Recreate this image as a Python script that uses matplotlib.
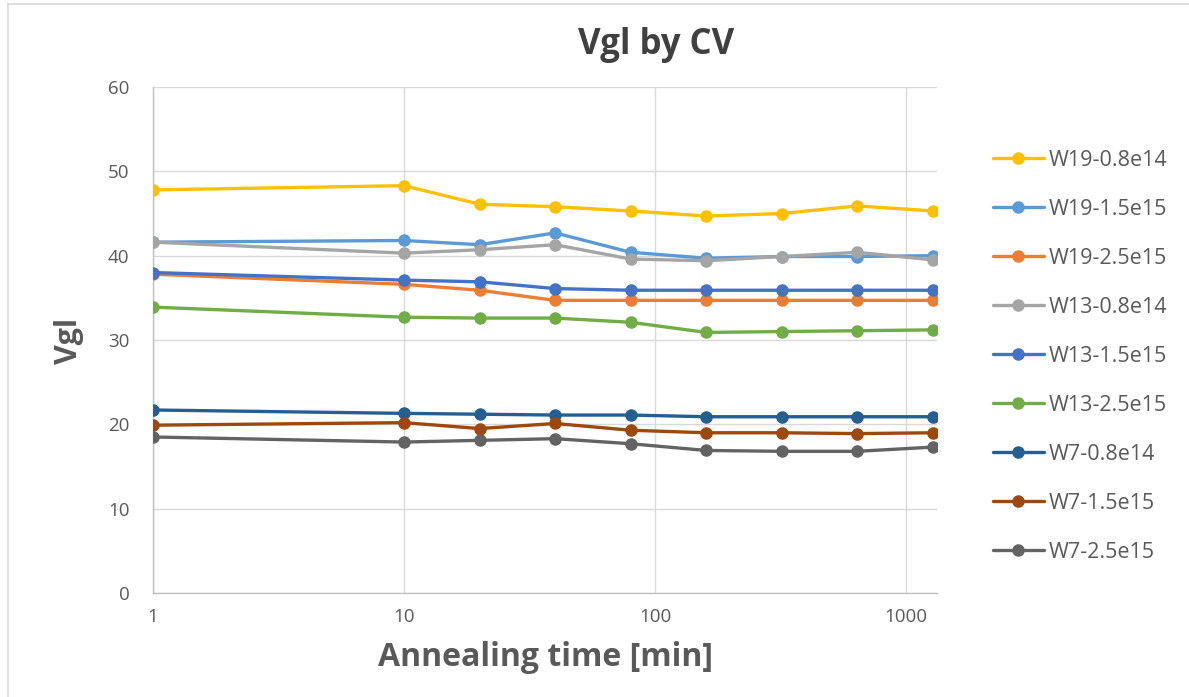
import matplotlib
matplotlib.use("Agg")
import matplotlib.pyplot as plt
from matplotlib.lines import Line2D

plt.rcParams['font.family'] = ['Open Sans', 'DejaVu Sans']

time_min = [1, 10, 20, 40, 80, 160, 320, 640, 1280]

series_names = ["W19-0.8e14", "W19-1.5e15", "W19-2.5e15", "W13-0.8e14", "W13-1.5e15",
                "W13-2.5e15", "W7-0.8e14", "W7-1.5e15", "W7-2.5e15"]
w19_08e14 = [47.8, 48.3, 46.1, 45.8, 45.3, 44.7, 45.0, 45.9, 45.3]
w19_15e15 = [41.6, 41.8, 41.3, 42.7, 40.4, 39.7, 39.9, 39.9, 40.0]
w19_25e15 = [37.8, 36.6, 35.9, 34.7, 34.7, 34.7, 34.7, 34.7, 34.7]
w13_08e14 = [41.6, 40.3, 40.7, 41.3, 39.6, 39.4, 39.9, 40.4, 39.5]
w13_15e15 = [38.0, 37.1, 36.9, 36.1, 35.9, 35.9, 35.9, 35.9, 35.9]
w13_25e15 = [33.9, 32.7, 32.6, 32.6, 32.1, 30.9, 31.0, 31.1, 31.2]
w7_08e14 = [21.7, 21.3, 21.2, 21.1, 21.1, 20.9, 20.9, 20.9, 20.9]
w7_15e15 = [19.9, 20.2, 19.5, 20.1, 19.3, 19.0, 19.0, 18.9, 19.0]
w7_25e15 = [18.5, 17.9, 18.1, 18.3, 17.7, 16.9, 16.8, 16.8, 17.3]

series_values = [w19_08e14, w19_15e15, w19_25e15, w13_08e14, w13_15e15,
                 w13_25e15, w7_08e14, w7_15e15, w7_25e15]
colors = ["#FFC000", "#5B9BD5", "#ED7D31", "#A5A5A5", "#4472C4",
          "#70AD47", "#255E91", "#9E480E", "#636363"]

x_ticks = [1, 10, 100, 1000]
x_tick_labels = ["1", "10", "100", "1000"]
y_ticks = [0, 10, 20, 30, 40, 50, 60]

W, H = 1189, 697
fig = plt.figure(figsize=(W / 100, H / 100), dpi=100)
ax = fig.add_axes([153 / W, 1 - 593 / H, (937 - 153) / W, (593 - 87) / H])

for name, vals, c in zip(series_names, series_values, colors):
    ax.plot(time_min, vals, color=c, lw=2.4, marker='o', ms=8, label=name,
            solid_capstyle='round', zorder=3)

ax.set_xscale('log')
ax.set_xlim(1, 1330)
ax.set_ylim(0, 60)
ax.set_xticks(x_ticks)
ax.set_xticklabels(x_tick_labels)
ax.minorticks_off()
ax.set_yticks(y_ticks)
ax.grid(True, color='#D9D9D9', lw=1.0, zorder=0)
ax.tick_params(length=0, labelsize=13.5, colors='#595959')
ax.tick_params(axis='x', pad=11)
ax.tick_params(axis='y', pad=17)
for s in ['top', 'right']:
    ax.spines[s].set_visible(False)
for s in ['left', 'bottom']:
    ax.spines[s].set_color('#BFBFBF')
    ax.spines[s].set_linewidth(1.0)

fig.text(656 / W, 1 - 45 / H, "Vgl by CV", ha='center', va='center',
         fontsize=25, fontweight='bold', color='#404040')
fig.text(545 / W, 1 - 657 / H, "Annealing time [min]", ha='center', va='center',
         fontsize=23, fontweight='bold', color='#595959')
fig.text(69 / W, 1 - 341 / H, "Vgl", ha='center', va='center', rotation=90,
         fontsize=22, fontweight='bold', color='#595959')

handles, labels = ax.get_legend_handles_labels()
leg = fig.legend(handles, labels, loc='upper left',
                 bbox_to_anchor=(984 / W, 1 - 141 / H), frameon=False,
                 fontsize=15.5, labelcolor='#595959', handlelength=2.4,
                 handletextpad=0.2, labelspacing=1.3, borderaxespad=0)

# chart frame (left and top visible)
fig.add_artist(Line2D([8 / W, 8 / W], [0, 1 - 4 / H], transform=fig.transFigure,
                      color='#D9D9D9', lw=1.2))
fig.add_artist(Line2D([8 / W, 1], [1 - 4 / H, 1 - 4 / H], transform=fig.transFigure,
                      color='#D9D9D9', lw=1.2))

fig.savefig("out.png", dpi=100, facecolor='white')
